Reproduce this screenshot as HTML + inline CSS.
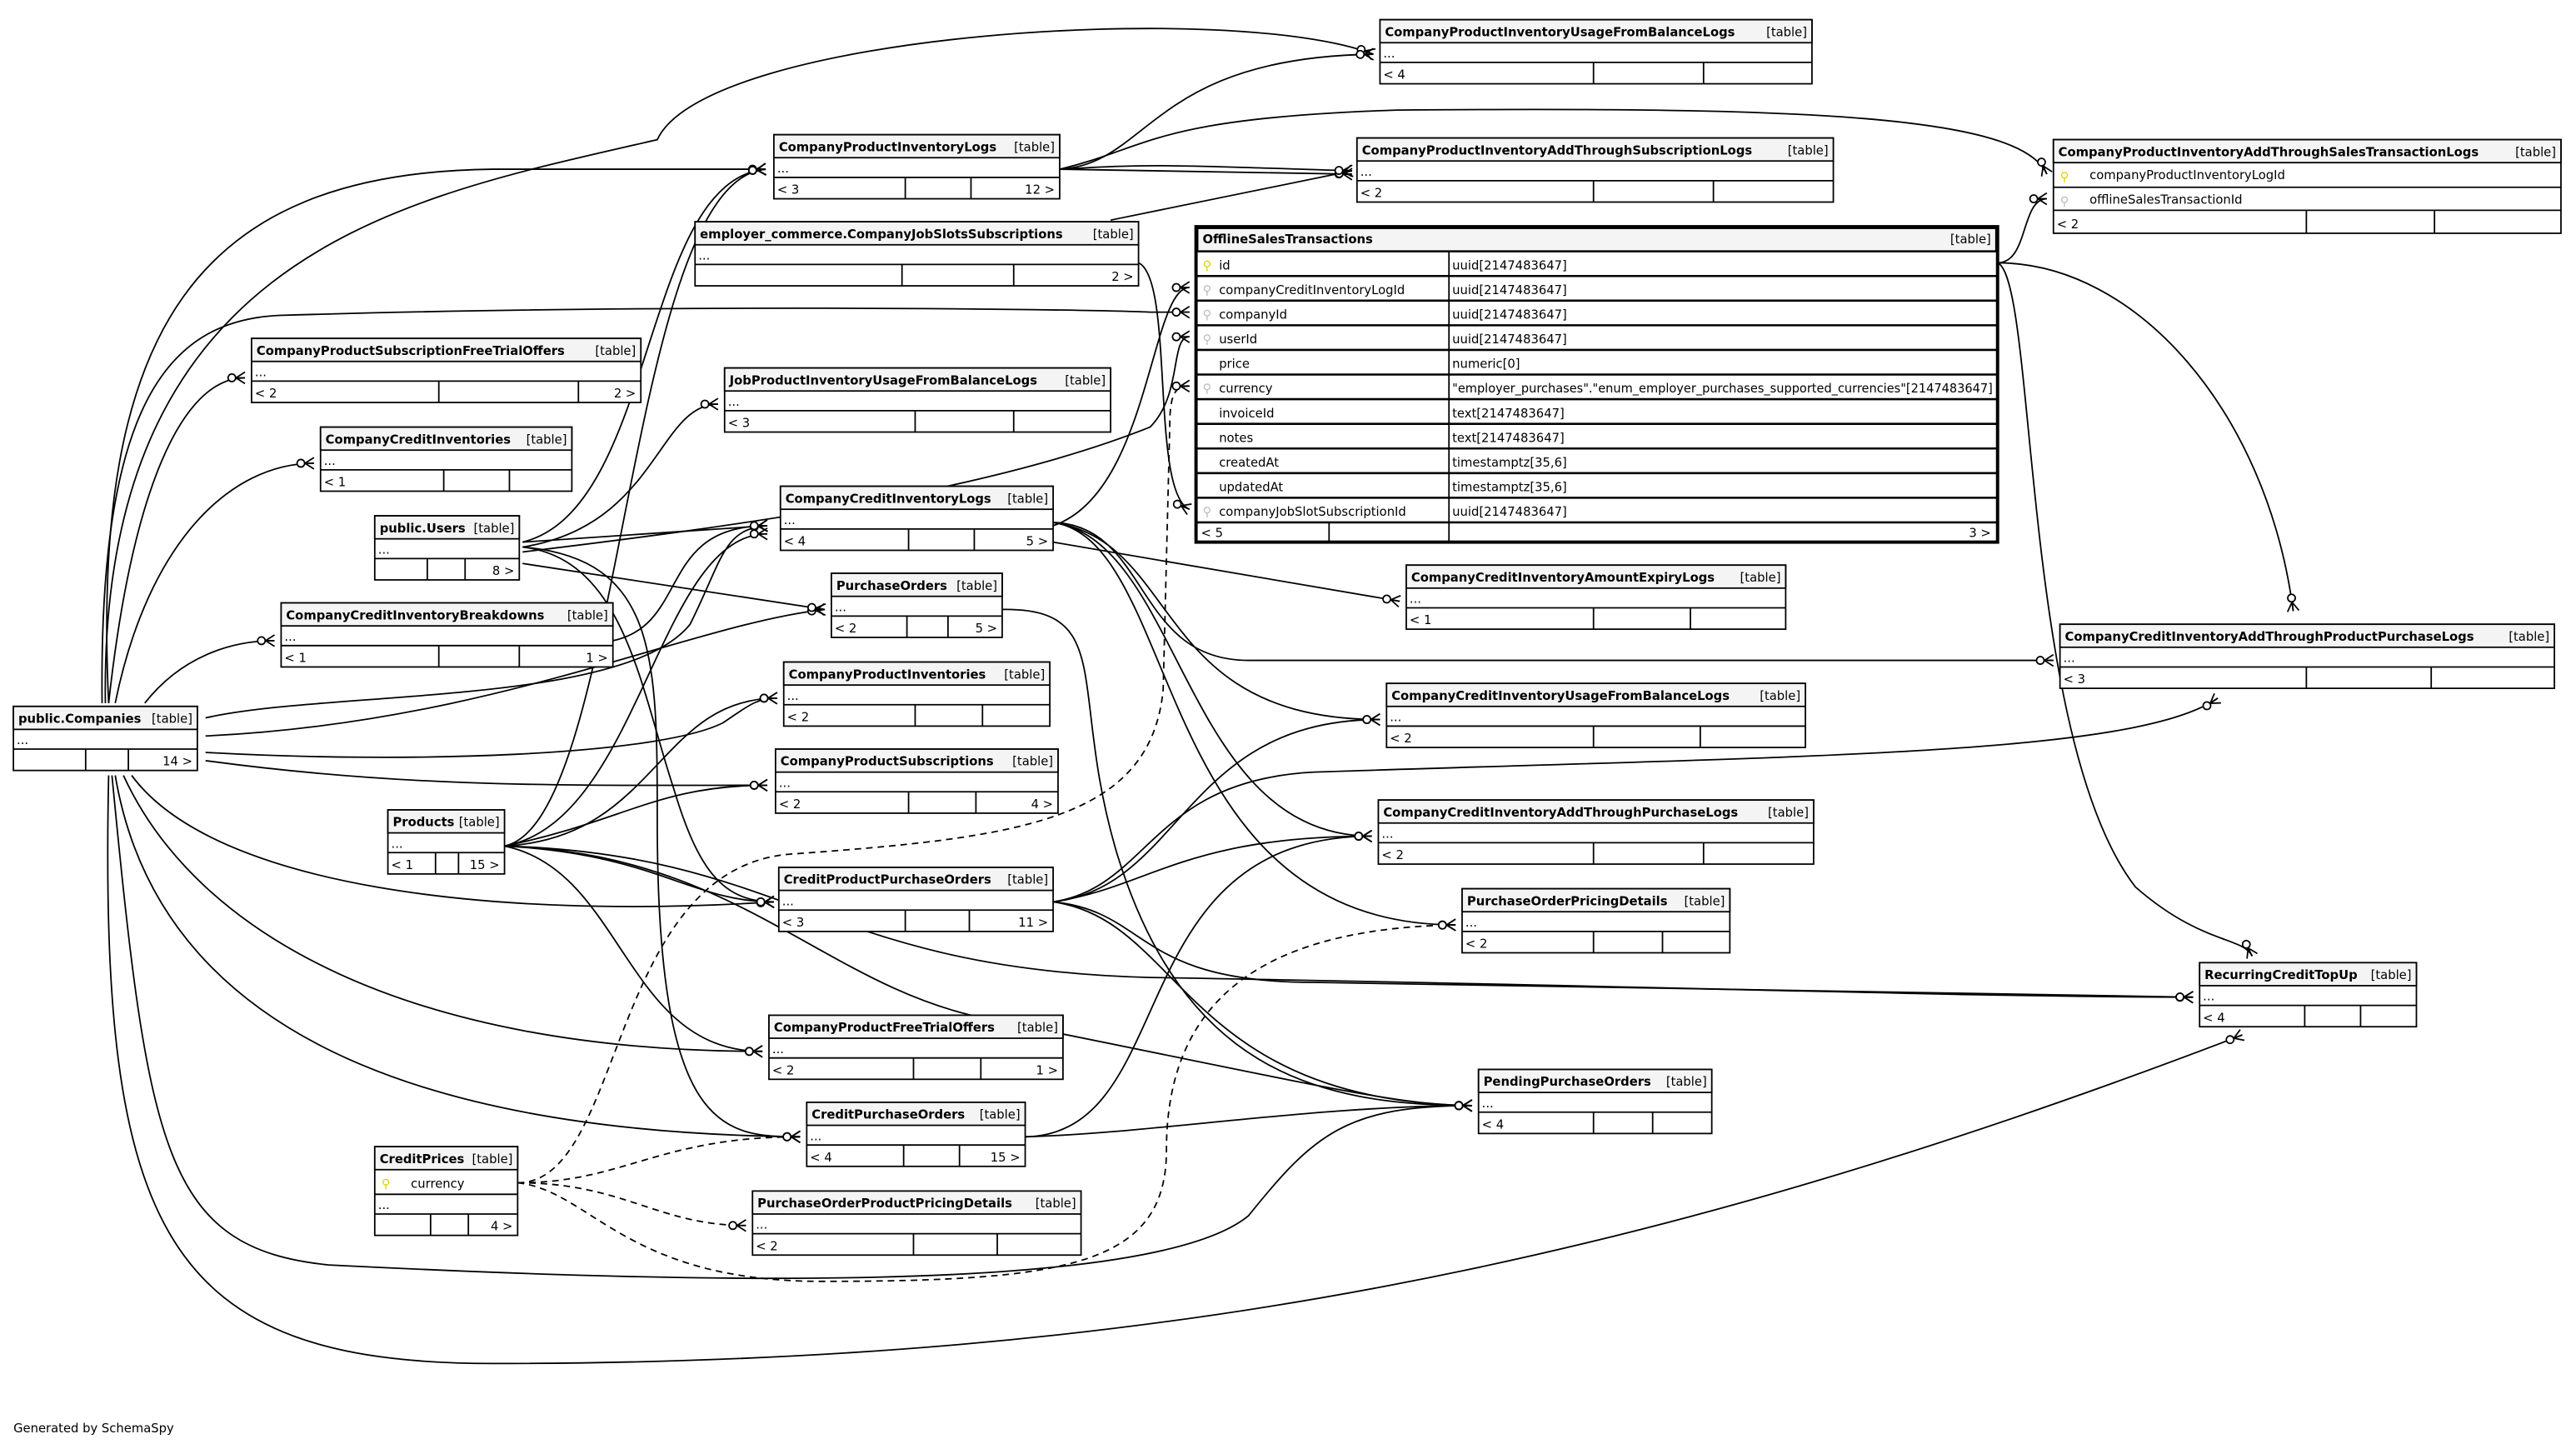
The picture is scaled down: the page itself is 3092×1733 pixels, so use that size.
<!DOCTYPE html>
<html><head><meta charset="utf-8"><style>
html,body{margin:0;padding:0;background:#fff;width:3092px;height:1733px;overflow:hidden}
svg{display:block}
text{font-family:"DejaVu Sans","Liberation Sans",sans-serif;font-size:7.5px;fill:#000}
.h{font-weight:bold}
</style></head><body>
<svg id="s" width="3092" height="1733" viewBox="0 0 1568 879" xmlns="http://www.w3.org/2000/svg">
<defs>
<marker id="m" markerWidth="14" markerHeight="10" refX="12" refY="5" orient="auto" markerUnits="userSpaceOnUse">
<circle cx="4" cy="5" r="2.3" fill="#fff" stroke="#000" stroke-width="0.9"/>
<path d="M6.5,5 L12,5 M6.5,5 L12,1.5 M6.5,5 L12,8.5" stroke="#000" stroke-width="0.9" fill="none"/>
</marker>
</defs>
<g id="edges" fill="none" stroke="#000" stroke-width="0.9"></g>
<g id="tables"></g>
<text x="8" y="872">Generated by SchemaSpy</text>
</svg>
<script>
var E=[
"M66,428 C55,200 120,105 300,103 L466,103",
"M64,428 C60,150 250,120 400,85 C430,20 750,0 836,33",
"M66,428 C80,300 110,230 149,230",
"M70,428 C90,330 140,282 191,282",
"M62,428 C60,250 100,195 170,192 C400,185 650,188 700,190 C712,190 712,190 724,190",
"M88,428 C110,400 140,390 167,390",
"M125,437 C200,420 380,430 420,380 C440,340 440,322 467,320",
"M125,448 C300,440 420,380 502,371",
"M125,458 C250,465 400,460 440,440 C455,430 460,425 473,425",
"M125,463 C250,480 350,478 467,478",
"M75,472 C120,570 250,640 464,640",
"M80,472 C130,540 300,560 471,549",
"M70,472 C100,650 300,690 487,692",
"M68,472 C90,700 100,760 200,770 C400,780 700,790 760,740 C800,690 820,673 896,673",
"M66,472 C60,750 100,830 300,830 C700,830 1000,770 1365,630",
"M318,330 C400,310 390,110 466,103",
"M318,333 C400,320 400,246 437,246",
"M318,330 L467,320",
"M318,336 C450,320 600,300 700,260 C720,240 712,205 724,205",
"M318,343 L502,371",
"M318,333 C380,340 390,420 410,480 C425,530 440,549 471,549",
"M318,333 C400,340 400,400 400,500 C400,690 440,692 487,692",
"M307,515 C380,500 380,110 466,103",
"M307,515 C390,500 400,325 467,325",
"M307,515 C400,510 400,425 473,425",
"M307,515 C380,500 400,478 467,478",
"M307,515 C400,520 420,549 471,549",
"M307,515 C380,530 380,640 464,640",
"M307,515 C450,520 500,600 600,620 C800,660 850,673 896,673",
"M307,515 C480,520 500,590 700,595 C1000,600 1200,607 1335,607",
"M645,103 C700,100 700,35 836,33",
"M645,103 L823,106",
"M645,103 C700,90 700,72 850,67 C1100,65 1230,70 1246,106",
"M676,134 L823,104",
"M693,160 C715,170 700,300 724,310",
"M1216,160 C1235,160 1230,121 1246,121",
"M1216,160 C1300,160 1380,250 1396,372",
"M1216,160 C1240,170 1230,450 1300,540 C1340,575 1365,570 1371,582",
"M641,320 C700,300 700,175 724,175",
"M641,330 L852,366",
"M641,318 C700,320 690,402 760,402 L1250,402",
"M641,318 C720,330 700,438 840,438",
"M641,318 C720,330 720,509 835,509",
"M641,318 C720,330 700,563 886,563",
"M610,371 C680,370 650,420 680,520 C720,650 800,673 896,673",
"M641,549 C720,540 720,438 840,438",
"M641,549 C700,540 720,509 835,509",
"M641,549 C700,540 700,475 800,470 C1100,460 1300,460 1350,425",
"M641,549 C700,555 690,598 800,598 L1335,607",
"M641,549 C720,560 720,670 896,673",
"M624,692 C720,690 680,509 835,509",
"M624,692 C700,690 800,673 896,673",
"M373,390 C420,380 400,320 467,320",
"M645,103 C700,100 700,100 823,104"
];
var D=[
"M315,720 C380,720 400,692 487,692",
"M315,720 C380,720 400,746 454,746",
"M315,720 C380,720 370,530 480,520 C620,510 700,500 708,420 L712,260 C712,240 715,235 724,235",
"M315,720 C360,725 380,780 500,780 C650,780 710,770 710,700 C710,600 780,565 886,563"
];
var ns="http://www.w3.org/2000/svg",g=document.getElementById("edges");
function p(d,dash){var e=document.createElementNS(ns,"path");e.setAttribute("d",d);e.setAttribute("marker-end","url(#m)");if(dash)e.setAttribute("stroke-dasharray","4,3");g.appendChild(e);}
E.forEach(function(d){p(d)});D.forEach(function(d){p(d,1)});
var T=[
["CompanyProductInventoryUsageFromBalanceLogs",840,12,1103,970,1037,"< 4",""],
["CompanyProductInventoryLogs",471,82,645,551,591,"< 3","12 >"],
["CompanyProductInventoryAddThroughSubscriptionLogs",826,84,1116,970,1043,"< 2",""],
["employer_commerce.CompanyJobSlotsSubscriptions",423,135,693,549,617,"","2 >"],
["CompanyProductSubscriptionFreeTrialOffers",153,206,390,267,352,"< 2","2 >"],
["JobProductInventoryUsageFromBalanceLogs",441,224,676,557,617,"< 3",""],
["CompanyCreditInventories",195,260,348,270,310,"< 1",""],
["public.Users",228,314,316,260,283,"","8 >"],
["CompanyCreditInventoryLogs",475,296,641,553,593,"< 4","5 >"],
["PurchaseOrders",506,349,610,552,577,"< 2","5 >"],
["CompanyCreditInventoryAmountExpiryLogs",856,344,1087,970,1029,"< 1",""],
["CompanyCreditInventoryBreakdowns",171,367,373,267,316,"< 1","1 >"],
["CompanyCreditInventoryAddThroughProductPurchaseLogs",1254,380,1555,1404,1480,"< 3",""],
["CompanyProductInventories",477,403,639,557,598,"< 2",""],
["CompanyCreditInventoryUsageFromBalanceLogs",844,416,1099,970,1035,"< 2",""],
["public.Companies",8,430,120,52,78,"","14 >"],
["CompanyProductSubscriptions",472,456,644,553,594,"< 2","4 >"],
["CompanyCreditInventoryAddThroughPurchaseLogs",839,487,1104,970,1037,"< 2",""],
["Products",236,493,307,265,279,"< 1","15 >"],
["CreditProductPurchaseOrders",474,528,641,551,590,"< 3","11 >"],
["PurchaseOrderPricingDetails",890,541,1053,970,1012,"< 2",""],
["RecurringCreditTopUp",1339,586,1471,1403,1437,"< 4",""],
["CompanyProductFreeTrialOffers",468,618,647,556,597,"< 2","1 >"],
["PendingPurchaseOrders",900,651,1042,970,1006,"< 4",""],
["CreditPurchaseOrders",491,671,624,550,584,"< 4","15 >"],
["PurchaseOrderProductPricingDetails",458,725,658,556,607,"< 2",""]
];
var tg=document.getElementById("tables"),out="";
function R(x,y,w,h,f,sw){return '<rect x="'+x+'" y="'+y+'" width="'+w+'" height="'+h+'" fill="'+(f||"#fff")+'" stroke="#000" stroke-width="'+(sw||0.9)+'"/>';}
function L(x1,y1,x2,y2){return '<line x1="'+x1+'" y1="'+y1+'" x2="'+x2+'" y2="'+y2+'" stroke="#000" stroke-width="0.9"/>';}
function Tx(x,y,s,c,a){return '<text x="'+x+'" y="'+y+'"'+(c?' class="h"':'')+(a?' text-anchor="end"':'')+'>'+s.replace(/&/g,"&amp;").replace(/</g,"&lt;").replace(/>/g,"&gt;")+'</text>';}
T.forEach(function(t){var x=t[1],y=t[2],x2=t[3],w=x2-x;
out+=R(x,y,w,39);out+=R(x,y,w,14,"#f4f4f4");
out+=Tx(x+3,y+10,t[0],1)+Tx(x2-3,y+10,"[table]",0,1);
out+=L(x,y+26,x2,y+26)+L(t[4],y+26,t[4],y+39)+L(t[5],y+26,t[5],y+39);
out+=Tx(x+2,y+23,"...")+Tx(x+2,y+36,t[6])+Tx(x2-3,y+36,t[7],0,1);});
(function(){var x=1250,y=85,x2=1559;out+=R(x,y,x2-x,57)+R(x,y,x2-x,14,"#f4f4f4");
out+=Tx(x+3,y+10,"CompanyProductInventoryAddThroughSalesTransactionLogs",1)+Tx(x2-3,y+10,"[table]",0,1);
out+=L(x,y+29,x2,y+29)+L(x,y+43,x2,y+43)+L(1404,y+43,1404,y+57)+L(1482,y+43,1482,y+57);
out+='<text x="1254" y="110" style="fill:#e0d000">&#9906;</text>'+Tx(1272,y+24,"companyProductInventoryLogId");
out+='<text x="1254" y="125" style="fill:#bbb">&#9906;</text>'+Tx(1272,y+39,"offlineSalesTransactionId")+Tx(x+2,y+54,"< 2");})();
(function(){var x=228,y=698,x2=315;out+=R(x,y,x2-x,54)+R(x,y,x2-x,14,"#f4f4f4");
out+=Tx(x+3,y+10,"CreditPrices",1)+Tx(x2-3,y+10,"[table]",0,1);
out+=L(x,y+29,x2,y+29)+L(x,y+41,x2,y+41)+L(262,y+41,262,y+54)+L(285,y+41,285,y+54);
out+='<text x="232" y="723" style="fill:#e0d000">&#9906;</text>'+Tx(250,y+25,"currency")+Tx(x+2,y+38,"...")+Tx(x2-3,y+51,"4 >",0,1);})();
(function(){var x=728,y=138,x2=1216;out+=R(x,y,x2-x,192,"#fff",2)+R(x+1,y+1,x2-x-2,14,"#f4f4f4",0);
out+=Tx(x+4,y+10,"OfflineSalesTransactions",1)+Tx(x2-4,y+10,"[table]",0,1);
var rows=[["id","uuid[2147483647]",1],["companyCreditInventoryLogId","uuid[2147483647]",2],["companyId","uuid[2147483647]",2],["userId","uuid[2147483647]",2],["price","numeric[0]",0],["currency","\"employer_purchases\".\"enum_employer_purchases_supported_currencies\"[2147483647]",2],["invoiceId","text[2147483647]",0],["notes","text[2147483647]",0],["createdAt","timestamptz[35,6]",0],["updatedAt","timestamptz[35,6]",0],["companyJobSlotSubscriptionId","uuid[2147483647]",2]];
for(var i=0;i<rows.length;i++){var ry=y+15+i*15;out+='<line x1="'+x+'" y1="'+ry+'" x2="'+x2+'" y2="'+ry+'" stroke="#000" stroke-width="1.3"/>';
if(rows[i][2])out+='<text x="732" y="'+(ry+11)+'" style="fill:'+(rows[i][2]==1?"#e0d000":"#bbb")+'">&#9906;</text>';
out+=Tx(742,ry+11,rows[i][0])+(i==5?'<text x="884" y="'+(ry+11)+'" textLength="329" lengthAdjust="spacingAndGlyphs">'+rows[i][1].replace(/"/g,"&quot;")+'</text>':Tx(884,ry+11,rows[i][1]));}
var fy=y+15+11*15;out+='<line x1="'+x+'" y1="'+fy+'" x2="'+x2+'" y2="'+fy+'" stroke="#000" stroke-width="1.3"/>';
out+=L(882,y+15,882,y+192)+L(809,fy,809,y+192)+Tx(731,fy+9,"< 5")+Tx(x2-4,fy+9,"3 >",0,1);})();
tg.innerHTML=out;
</script>
</body></html>
